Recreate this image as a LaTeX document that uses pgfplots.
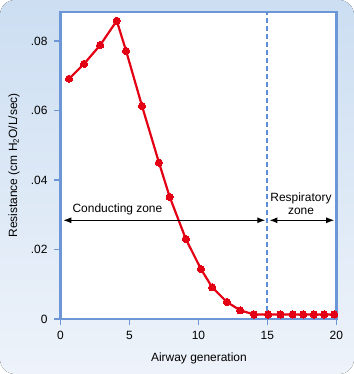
\documentclass[border=0pt]{standalone}
\usepackage{fontspec}
\setmainfont{Liberation Sans}
\usepackage{pgfplots}
\pgfplotsset{compat=1.18}
\usetikzlibrary{arrows.meta}
\definecolor{axblue}{RGB}{108,150,214}
\definecolor{dashblue}{RGB}{95,140,215}
\definecolor{bgtop}{RGB}{204,222,242}
\definecolor{bgbot}{RGB}{238,243,250}
\definecolor{curvered}{RGB}{228,0,20}
\begin{document}
\begin{tikzpicture}
\fill[rounded corners=15bp, top color=bgtop, bottom color=bgbot] (-60.5bp,-55bp) rectangle (293.5bp,319bp);
\begin{axis}[
  at={(0,0)}, anchor=south west,
  scale only axis, width=275.8bp, height=307.3bp,
  xmin=0, xmax=20, ymin=0, ymax=0.0884,
  axis background/.style={fill=white},
  axis line style={axblue, line width=2.4bp},
  every tick/.style={axblue, line width=1.4bp},
  tick align=outside, xtick pos=left, ytick pos=left,
  major tick length=6bp,
  xtick={0,5,10,15,20},
  ytick={0,0.02,0.04,0.06,0.08},
  yticklabels={0,.02,.04,.06,.08},
  scaled y ticks=false,
  /pgf/number format/assume math mode=true,
  tick label style={font=\fontsize{12}{14}\selectfont},
  label style={font=\fontsize{12}{14}\selectfont},
  xticklabel style={yshift=-3bp},
  yticklabel style={xshift=-3.5bp},
  xlabel={Airway generation},
  ylabel={Resistance (cm H\textsubscript{2}O/L/sec)},
  xlabel style={at={(axis description cs:0.502,-0.139)}, anchor=base},
  ylabel style={at={(axis description cs:-0.1687,0.5)}, anchor=center},
  clip=false,
]
\addplot[color=dashblue, solid, line width=2bp, dash pattern=on 5bp off 3bp, mark=none] coordinates {(15,0) (15,0.0884)};
\addplot[curvered, line width=2.2bp, mark=*, mark size=3.6bp, mark options={fill=curvered, draw=curvered, line width=0pt}] coordinates {
(0.62,0.0691) (1.71,0.0734) (2.88,0.0788) (4.08,0.0858) (4.76,0.0771)
(5.91,0.0613) (7.14,0.0450) (7.92,0.0351) (9.09,0.0230) (10.18,0.0144)
(11.0,0.0091) (12.06,0.0049) (13.03,0.0025) (14.03,0.0013) (15.05,0.0013)
(15.95,0.0013) (16.83,0.0013) (17.6,0.0013) (18.38,0.0013) (19.12,0.0013) (19.85,0.0013)
};
\draw[black, line width=1.1bp, {Latex[length=8bp,width=6bp]}-{Latex[length=8bp,width=6bp]}] (axis cs:0.2,0.0284) -- (axis cs:14.85,0.0284);
\draw[black, line width=1.1bp, {Latex[length=8bp,width=6bp]}-{Latex[length=8bp,width=6bp]}] (axis cs:15.15,0.0284) -- (axis cs:19.85,0.0284);
\node[font=\fontsize{12}{14}\selectfont, anchor=center] at (axis cs:4.13,0.03145) {Conducting zone};
\node[font=\fontsize{12}{13.3}\selectfont, align=center, anchor=center] at (axis cs:17.44,0.0332) {Respiratory\\zone};
\end{axis}
\end{tikzpicture}
\end{document}
